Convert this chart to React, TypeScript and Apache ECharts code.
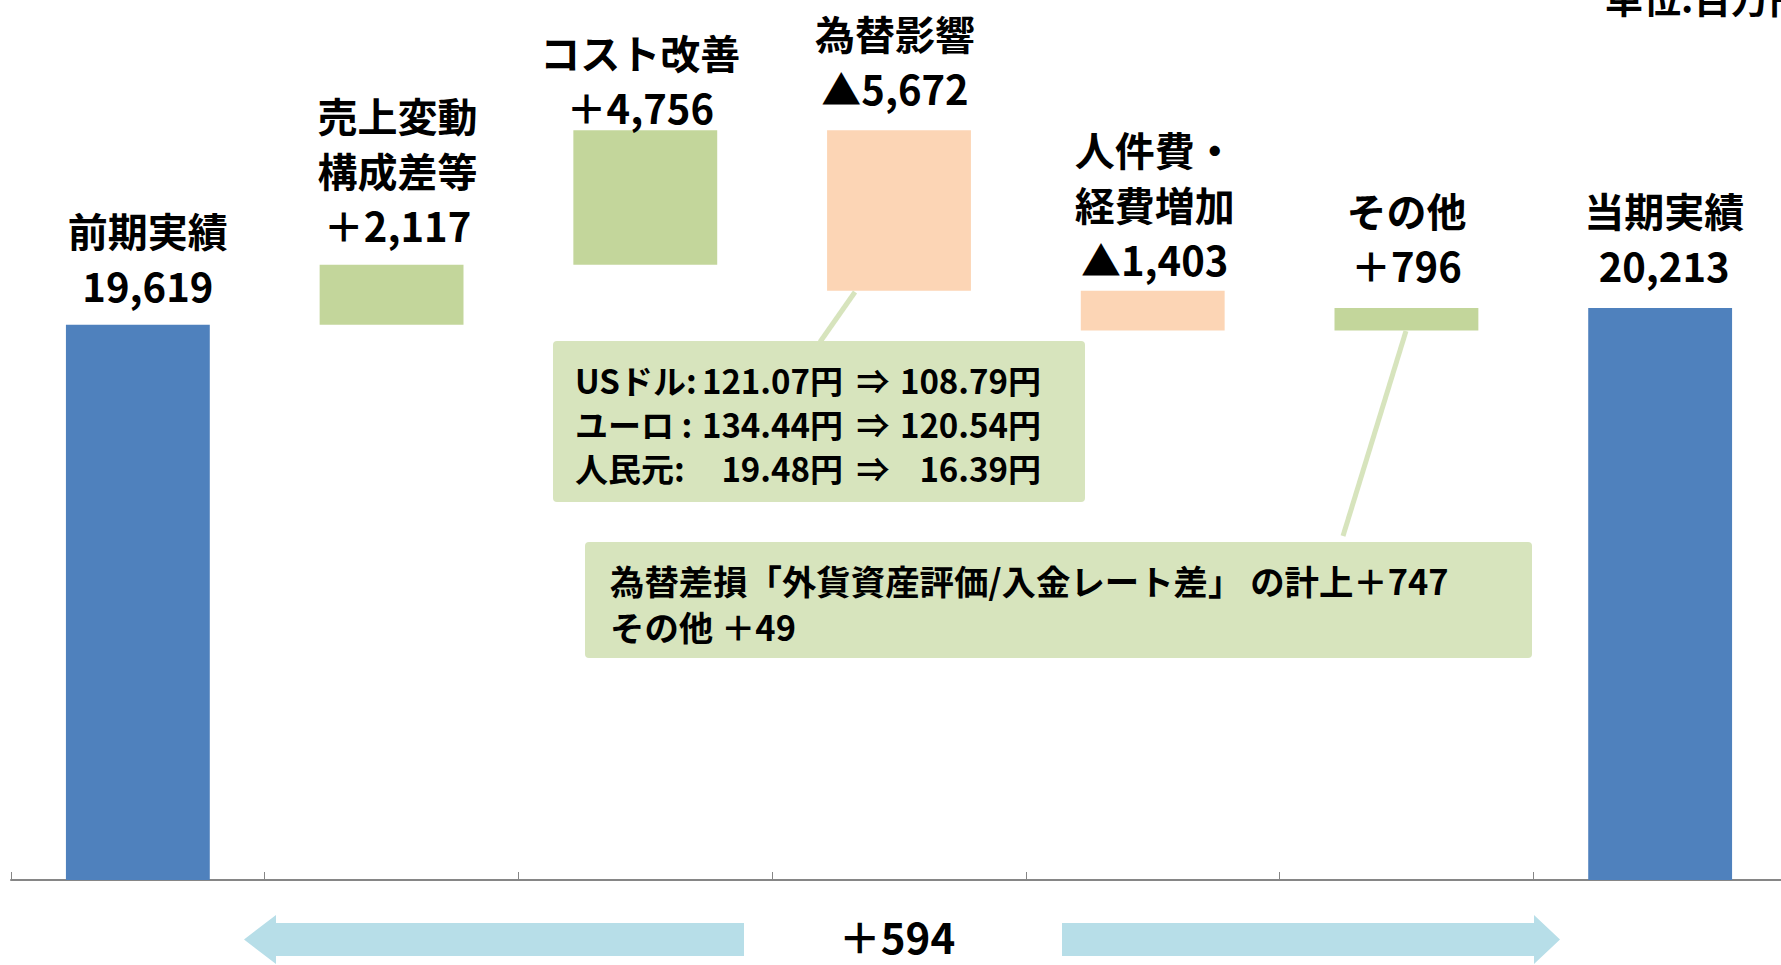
import React, { useEffect, useRef } from "react";
import * as echarts from "echarts";

// ---- data ----
const categories = ["前期実績", "売上変動\n構成差等", "コスト改善", "為替影響", "人件費・\n経費増加", "その他", "当期実績"];
const changes = [19619, 2117, 4756, -5672, -1403, 796, 20213];
const isTotal = [true, false, false, false, false, false, true];
const yMax = 30000;
const unitText = "単位:百万円";
const totalDiffText = "＋594";
const fxLabels = ["USドル:", "ユーロ :", "人民元:"];
const fxFrom = ["121.07円", "134.44円", "19.48円"];
const fxTo = ["108.79円", "120.54円", "16.39円"];
const otherNotes = ["為替差損「外貨資産評価/入金レート差」 の計上＋747", "その他 ＋49"];

// ---- layout (not data) ----
const labelNudge: [number, number][] = [
  [10, 0], [6, 0], [-5, 16], [-4, -3], [2, 8], [0, -3], [4, -3],
];

const COLORS = { total: "#4F81BD", up: "#C3D69B", down: "#FCD5B5" };
const FONT = '"Noto Sans CJK JP", "Noto Sans", sans-serif';

function fmt(n: number) {
  return Math.abs(n).toLocaleString("en-US");
}

export default function App() {
  const ref = useRef<HTMLDivElement>(null);
  useEffect(() => {
    if (!ref.current) return;
    const chart = echarts.init(ref.current, undefined, { renderer: "svg" });

    const bases: number[] = [];
    const values: number[] = [];
    let running = 0;
    changes.forEach((c, i) => {
      if (isTotal[i]) {
        bases.push(0);
        values.push(c);
        running = c;
      } else if (c >= 0) {
        bases.push(running);
        values.push(c);
        running += c;
      } else {
        running += c;
        bases.push(running);
        values.push(-c);
      }
    });
    const valueText = changes.map((c, i) => (isTotal[i] ? fmt(c) : (c >= 0 ? "＋" : "▲") + fmt(c)));

    const txt = (text: string, x: number, y: number, fontSize: number, align = "left", extra: any = {}) => ({
      type: "text",
      x,
      y,
      z: 20,
      style: {
        text,
        fontSize,
        fontWeight: "bold",
        fontFamily: FONT,
        fill: "#000",
        textAlign: align,
        textVerticalAlign: "middle",
        lineHeight: Math.round(fontSize * 1.15),
        ...extra,
      },
    });

    const fxY = [380, 424, 468];
    const graphics: any[] = [
      // connectors
      { type: "line", z: 5, shape: { x1: 820, y1: 342, x2: 855, y2: 292 }, style: { stroke: "#D7E4BD", lineWidth: 5 } },
      { type: "line", z: 5, shape: { x1: 1343, y1: 536, x2: 1406, y2: 331 }, style: { stroke: "#D7E4BD", lineWidth: 5 } },
      // boxes
      { type: "rect", z: 10, shape: { x: 553, y: 341, width: 532, height: 161, r: 4 }, style: { fill: "#D7E4BD" } },
      { type: "rect", z: 10, shape: { x: 585, y: 542, width: 947, height: 116, r: 4 }, style: { fill: "#D7E4BD" } },
      // arrows
      {
        type: "polygon",
        z: 5,
        shape: { points: [[244, 939.5], [276, 915], [276, 923], [744, 923], [744, 956], [276, 956], [276, 964]] },
        style: { fill: "#B7DEE8" },
      },
      {
        type: "polygon",
        z: 5,
        shape: { points: [[1560, 939.5], [1534, 915], [1534, 923], [1062, 923], [1062, 956], [1534, 956], [1534, 964]] },
        style: { fill: "#B7DEE8" },
      },
      txt(totalDiffText, 897, 935, 42, "center", { lineHeight: 40 }),
      txt(unitText, 1605, -4, 38, "left"),
      txt(otherNotes.join("\n"), 610, 602.5, 34.4, "left", { lineHeight: 46 }),
    ];
    fxLabels.forEach((l, i) => {
      graphics.push(txt(l, 575, fxY[i], 33, "left"));
      graphics.push(txt(fxFrom[i], 843, fxY[i], 33, "right"));
      graphics.push(txt("⇒", 873, fxY[i], 33, "center"));
      graphics.push(txt(fxTo[i], 1041, fxY[i], 33, "right"));
    });

    chart.setOption({
      animation: false,
      grid: { left: 11, top: 31, width: 1776, height: 849, outerBoundsMode: "none", containLabel: false },
      xAxis: {
        type: "category",
        data: categories,
        axisLine: { show: true, lineStyle: { color: "#868686", width: 2 } },
        axisTick: { show: true, inside: true, length: 8, lineStyle: { color: "#868686", width: 1 } },
        axisLabel: { show: false },
        splitLine: { show: false },
      },
      yAxis: {
        type: "value",
        min: 0,
        max: yMax,
        show: false,
        splitLine: { show: false },
      },
      series: [
        {
          type: "bar",
          stack: "w",
          silent: true,
          barWidth: "56.7%",
          itemStyle: { color: "rgba(0,0,0,0)" },
          data: bases,
        },
        {
          type: "bar",
          stack: "w",
          barWidth: "56.7%",
          data: values.map((v, i) => ({
            value: v,
            itemStyle: { color: isTotal[i] ? COLORS.total : changes[i] >= 0 ? COLORS.up : COLORS.down },
            label: { offset: labelNudge[i] },
          })),
          label: {
            show: true,
            position: "top",
            distance: 12,
            fontSize: 40,
            fontWeight: "bold",
            fontFamily: FONT,
            color: "#000",
            lineHeight: 55,
            align: "center",
            formatter: (p: any) => `${categories[p.dataIndex]}\n${valueText[p.dataIndex]}`,
          },
        },
      ],
      graphic: graphics,
    });
    return () => chart.dispose();
  }, []);
  return <div ref={ref} style={{ position: "absolute", left: 0, top: 0, width: 1781, height: 965 }} />;
}
